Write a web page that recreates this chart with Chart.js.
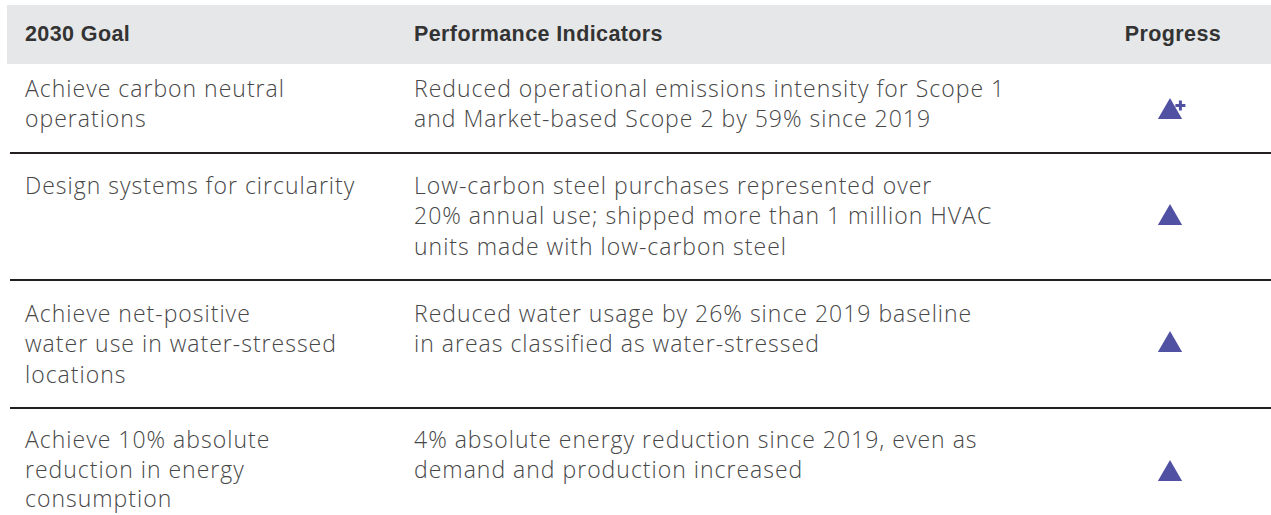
<!DOCTYPE html>
<html>
<head>
<meta charset="utf-8">
<script src="https://cdn.jsdelivr.net/npm/chart.js@4/dist/chart.umd.min.js"></script>
<style>
  html, body { margin: 0; padding: 0; background: #fff; }
  body { width: 1271px; height: 515px; position: relative; overflow: hidden; }
  .head { position: absolute; left: 7px; top: 5px; width: 1264px; height: 59px; background: #e6e7e8; }
  .hcell { position: absolute; top: 5px; height: 59px; line-height: 59px; letter-spacing: 0.4px;
           font-family: "Liberation Sans", Arial, sans-serif; font-weight: 700; font-size: 21.5px; color: #333; }
  .rule { position: absolute; left: 10px; width: 1261px; height: 2px; background: #231f20; }
  .cell { position: absolute; font-family: "Open Sans", sans-serif; font-weight: 300; letter-spacing: 1px;
          font-size: 23px; color: #474747; white-space: nowrap; }
  .mark { position: absolute; width: 80px; height: 60px; }
</style>
</head>
<body>
<div class="head"></div>
<div id="table"></div>

<script>
/* ------------------------------
   TABLE DATA
--------------------------------*/

let headers = ["2030 Goal", "Performance Indicators", "Progress"];

let goals = [
    ["Achieve carbon neutral", "operations"],
    ["Design systems for circularity"],
    ["Achieve net-positive", "water use in water-stressed", "locations"],
    ["Achieve 10% absolute", "reduction in energy", "consumption"]
];

let indicators = [
    ["Reduced operational emissions intensity for Scope 1", "and Market-based Scope 2 by 59% since 2019"],
    ["Low-carbon steel purchases represented over", "20% annual use; shipped more than 1 million HVAC", "units made with low-carbon steel"],
    ["Reduced water usage by 26% since 2019 baseline", "in areas classified as water-stressed"],
    ["4% absolute energy reduction since 2019, even as", "demand and production increased"]
];

// "exceeded" gets the extra plus sign next to the triangle
let progress = ["exceeded", "on track", "on track", "on track"];

/* ------------------------------
   LAYOUT
--------------------------------*/

let rowTop = [64, 153, 280, 408];        // top edge of each row (rules sit on 1..3)
let firstLine = [24, 32, 33, 32];        // first text line centre below row top
let lineH = [30.5, 30.5, 30.5, 29.5];    // last row squeezed a little so it fits the page
let markCentre = [108, 214, 341, 470];   // triangle centre per row
let colX = [25, 414];
let markX = 1170;
let markColor = "#5151a3";

let table = document.getElementById("table");

// header cells
[0, 1].forEach(i => {
    let h = document.createElement("div");
    h.className = "hcell";
    h.style.left = colX[i] + "px";
    h.textContent = headers[i];
    table.appendChild(h);
});
let ph = document.createElement("div");
ph.className = "hcell";
ph.style.left = "1073px";
ph.style.width = "200px";
ph.style.textAlign = "center";
ph.textContent = headers[2];
table.appendChild(ph);

// rules between rows
rowTop.slice(1).forEach(y => {
    let r = document.createElement("div");
    r.className = "rule";
    r.style.top = (y - 1) + "px";
    table.appendChild(r);
});

// text cells
function addCell(lines, x, top, lh) {
    let c = document.createElement("div");
    c.className = "cell";
    c.style.left = x + "px";
    c.style.top = top + "px";
    c.style.lineHeight = lh + "px";
    c.innerHTML = lines.join("<br>");
    table.appendChild(c);
}

goals.forEach((g, i) => {
    let top = rowTop[i] + firstLine[i] - lineH[i] / 2;
    addCell(g, colX[0], top, lineH[i]);
    addCell(indicators[i], colX[1], top, lineH[i]);
});

/* ------------------------------
   PROGRESS MARKERS (CHART.JS)
--------------------------------*/

progress.forEach((p, i) => {
    let cv = document.createElement("canvas");
    cv.className = "mark";
    cv.width = 80;
    cv.height = 60;
    // triangle bbox centre sits r/4 above the point position
    cv.style.left = (markX - 40) + "px";
    cv.style.top = (markCentre[i] + 3.5 - 30) + "px";
    table.appendChild(cv);

    let sets = [{
        data: [{ x: 0, y: 0 }],
        pointStyle: "triangle",
        pointRadius: 14,
        backgroundColor: markColor,
        borderWidth: 0,
        clip: false
    }];
    if (p === "exceeded") {
        sets.push({
            data: [{ x: 16, y: 12 }],
            pointStyle: "cross",
            pointRadius: 5,
            borderColor: markColor,
            borderWidth: 3,
            clip: false
        });
    }

    new Chart(cv, {
        type: "scatter",
        data: { datasets: sets },
        options: {
            responsive: false,
            animation: false,
            events: [],
            layout: { padding: 0 },
            plugins: { legend: { display: false }, tooltip: { enabled: false } },
            scales: {
                x: { display: false, min: -40, max: 40 },
                y: { display: false, min: -30, max: 30 }
            }
        }
    });
});
</script>
</body>
</html>
